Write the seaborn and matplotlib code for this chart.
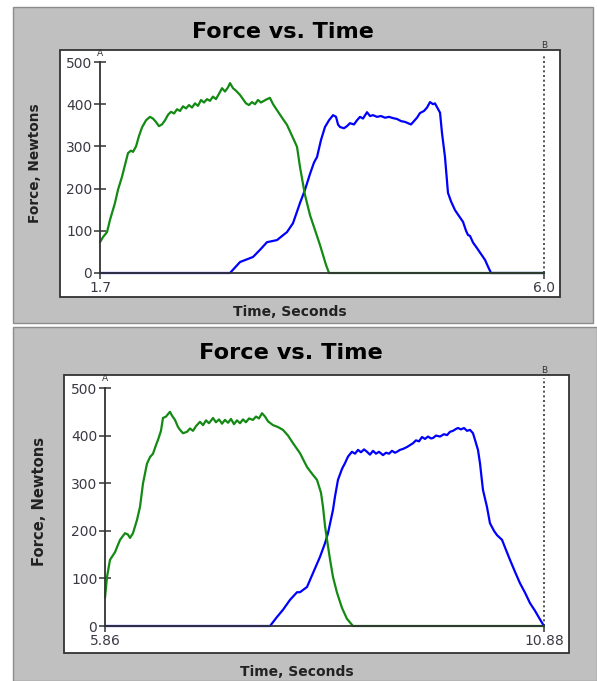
import matplotlib
matplotlib.use("Agg")
import matplotlib.pyplot as plt
from matplotlib.patches import Rectangle
import seaborn as sns
import pandas as pd

sns.set_style("white")
plt.rcParams['font.family'] = ['DejaVu Sans']

# ---------------- data: top run ----------------
top_green_t = [1.700, 1.729, 1.768, 1.797, 1.845, 1.874, 1.913, 1.942, 1.971, 2.000, 2.020, 2.049,
               2.078, 2.107, 2.146, 2.184, 2.213, 2.242, 2.271, 2.300, 2.330, 2.359, 2.388, 2.417,
               2.446, 2.475, 2.504, 2.533, 2.562, 2.591, 2.620, 2.649, 2.678, 2.707, 2.736, 2.765,
               2.794, 2.823, 2.853, 2.882, 2.911, 2.940, 2.959, 2.988, 3.017, 3.056, 3.085, 3.114,
               3.143, 3.172, 3.201, 3.230, 3.259, 3.288, 3.317, 3.346, 3.376, 3.414, 3.463, 3.511,
               3.560, 3.608, 3.637, 3.685, 3.734, 3.782, 3.831, 3.889, 3.918, 6.000]
top_green_f = [73, 85, 97, 126, 166, 197, 228, 256, 284, 290, 287, 300,
               325, 345, 362, 370, 366, 358, 348, 352, 362, 375, 382, 378,
               388, 384, 395, 390, 398, 392, 402, 396, 410, 404, 412, 408,
               418, 412, 425, 438, 430, 440, 450, 438, 432, 422, 412, 402,
               398, 405, 400, 410, 404, 408, 412, 415, 400, 386, 368, 351,
               325, 299, 251, 185, 137, 102, 66, 19, 0, 0]

top_blue_t = [1.700, 2.959, 3.056, 3.182, 3.250, 3.317, 3.414, 3.511, 3.569, 3.637, 3.685, 3.734,
              3.773, 3.802, 3.840, 3.879, 3.918, 3.957, 3.986, 4.005, 4.024, 4.063, 4.092, 4.121,
              4.160, 4.189, 4.218, 4.247, 4.286, 4.315, 4.344, 4.383, 4.421, 4.460, 4.499, 4.538,
              4.576, 4.615, 4.654, 4.683, 4.712, 4.741, 4.770, 4.799, 4.838, 4.867, 4.896, 4.925,
              4.944, 4.964, 4.993, 5.012, 5.041, 5.070, 5.099, 5.138, 5.177, 5.216, 5.245, 5.264,
              5.283, 5.313, 5.351, 5.390, 5.429, 5.458, 5.487, 6.000]
top_blue_f = [0, 0, 26, 38, 55, 73, 78, 97, 118, 166, 197, 235,
              262, 275, 315, 346, 362, 374, 370, 352, 346, 343, 348, 355,
              352, 362, 370, 366, 381, 372, 374, 370, 372, 368, 370, 367,
              365, 360, 358, 355, 352, 360, 368, 379, 384, 392, 405, 400,
              402, 393, 380, 332, 275, 190, 170, 149, 135, 121, 100, 90,
              88, 72, 59, 45, 31, 15, 0, 0]

# ---------------- data: bottom run ----------------
bot_green_t = [5.860, 5.883, 5.917, 5.974, 6.032, 6.089, 6.123, 6.146, 6.180, 6.226, 6.260, 6.295,
               6.340, 6.375, 6.409, 6.443, 6.466, 6.500, 6.523, 6.558, 6.580, 6.603, 6.626, 6.660,
               6.695, 6.718, 6.752, 6.798, 6.832, 6.866, 6.901, 6.946, 6.981, 7.015, 7.049, 7.095,
               7.129, 7.164, 7.198, 7.232, 7.267, 7.301, 7.335, 7.369, 7.404, 7.438, 7.472, 7.507,
               7.552, 7.587, 7.621, 7.655, 7.690, 7.724, 7.781, 7.838, 7.895, 7.953, 8.010, 8.056,
               8.090, 8.170, 8.227, 8.284, 8.330, 8.353, 8.376, 8.399, 8.433, 8.467, 8.513, 8.570,
               8.627, 8.696, 10.880]
bot_green_f = [59, 103, 139, 155, 181, 195, 192, 185, 195, 223, 250, 300,
               341, 355, 362, 380, 391, 410, 437, 440, 445, 450, 442, 433,
               418, 412, 405, 408, 415, 410, 420, 429, 422, 432, 426, 437,
               428, 434, 425, 433, 427, 435, 424, 432, 426, 434, 428, 436,
               433, 440, 436, 447, 440, 430, 422, 418, 412, 400, 384, 372,
               363, 334, 320, 307, 280, 250, 210, 181, 140, 103, 70, 38,
               15, 0, 0]

bot_blue_t = [5.860, 7.747, 7.827, 7.895, 7.976, 8.056, 8.090, 8.170, 8.238, 8.318, 8.376, 8.410,
              8.467, 8.490, 8.524, 8.570, 8.604, 8.639, 8.684, 8.719, 8.753, 8.787, 8.822, 8.856,
              8.890, 8.925, 8.959, 8.993, 9.039, 9.073, 9.108, 9.142, 9.176, 9.199, 9.233, 9.268,
              9.313, 9.348, 9.382, 9.416, 9.451, 9.485, 9.519, 9.554, 9.588, 9.611, 9.645, 9.691,
              9.736, 9.771, 9.805, 9.839, 9.874, 9.897, 9.931, 9.965, 10.000, 10.034, 10.068, 10.091,
              10.125, 10.148, 10.182, 10.228, 10.262, 10.308, 10.342, 10.400, 10.445, 10.491, 10.548,
              10.605, 10.663, 10.720, 10.777, 10.834, 10.880]
bot_blue_f = [0, 0, 19, 34, 55, 71, 71, 82, 111, 145, 174, 195,
              244, 272, 307, 330, 342, 356, 366, 362, 370, 365, 371, 366,
              360, 368, 362, 366, 359, 364, 362, 368, 364, 366, 370, 372,
              376, 380, 384, 390, 388, 397, 393, 398, 394, 395, 400, 398,
              403, 401, 408, 410, 414, 416, 413, 416, 410, 412, 405, 391,
              370, 342, 286, 250, 216, 200, 191, 181, 160, 139, 114,
              90, 70, 48, 32, 14, 0]

y_ticks = [0, 100, 200, 300, 400, 500]
top_xticks = [1.7, 6.0]
top_xlabels = ["1.7", "6.0"]
bot_xticks = [5.86, 10.88]
bot_xlabels = ["5.86", "10.88"]
title = "Force vs. Time"
xlab = "Time, Seconds"
ylab = "Force, Newtons"

W, H = 597, 681
fig = plt.figure(figsize=(W / 100, H / 100), dpi=100)

def R(x0, y0, x1, y1, **kw):
    fig.add_artist(Rectangle((x0 / W, 1 - y1 / H), (x1 - x0) / W, (y1 - y0) / H,
                             transform=fig.transFigure, **kw))

GRAY = "#c0c0c0"
# panels
R(13, 7, 593, 323, facecolor=GRAY, edgecolor="#8c8c8c", lw=1.0, zorder=-3)
R(13, 327, 597, 681, facecolor=GRAY, edgecolor="#8c8c8c", lw=1.0, zorder=-3)
# white plot boxes
R(60, 50, 560, 297, facecolor="white", edgecolor="#333333", lw=1.3, zorder=-2)
R(64, 375, 569, 653, facecolor="white", edgecolor="#333333", lw=1.3, zorder=-2)

GREEN = "#138a13"
BLUE = "#0000ff"
TICKC = "#3a3a44"


def make_panel(rect, gt, gf, bt, bf, xt, xl, title_xy, xlab_xy, ylab_xy, ylab_size, title_size):
    ax = fig.add_axes([rect[0] / W, 1 - rect[3] / H, (rect[2] - rect[0]) / W, (rect[3] - rect[1]) / H])
    ax.set_facecolor("none")
    dfb = pd.DataFrame({"t": bt, "f": bf})
    dfg = pd.DataFrame({"t": gt, "f": gf})
    sns.lineplot(data=dfb, x="t", y="f", ax=ax, color=BLUE, lw=1.6, clip_on=False, zorder=3)
    sns.lineplot(data=dfg, x="t", y="f", ax=ax, color=GREEN, lw=1.6, clip_on=False, zorder=4)
    ax.set_xlim(xt[0], xt[-1])
    ax.set_ylim(0, 500)
    ax.set_xlabel("")
    ax.set_ylabel("")
    for s in ["top", "right"]:
        ax.spines[s].set_visible(False)
    for s in ["left", "bottom"]:
        ax.spines[s].set_color("#333333")
        ax.spines[s].set_linewidth(1.3)
        ax.spines[s].set_zorder(5)
    ax.set_yticks(y_ticks)
    ax.set_yticklabels([str(v) for v in y_ticks])
    ax.set_xticks(xt)
    ax.set_xticklabels(xl)
    ax.tick_params(axis="y", direction="inout", length=9, width=1.1, color="#333333",
                   labelsize=10, labelcolor=TICKC, pad=1, left=True)
    ax.tick_params(axis="x", direction="out", length=4, width=1.1, color="#333333",
                   labelsize=10, labelcolor=TICKC, pad=2, bottom=True)
    # B cursor at right end
    ax.axvline(xt[-1], ymin=0, ymax=1.04, ls=(0, (1.2, 1.6)), color="#333333", lw=1.2,
               clip_on=False, zorder=2)
    ax.text(xt[-1], 1.055, "B", transform=ax.get_xaxis_transform(), ha="center", va="bottom",
            fontsize=6.5, color="#333333")
    ax.text(xt[0], 1.02, "A", transform=ax.get_xaxis_transform(), ha="center", va="bottom",
            fontsize=6.5, color="#333333")
    fig.text(title_xy[0] / W, 1 - title_xy[1] / H, title, ha="center", va="center",
             fontsize=title_size, fontweight="bold", color="black")
    fig.text(xlab_xy[0] / W, 1 - xlab_xy[1] / H, xlab, ha="center", va="center",
             fontsize=10, fontweight="bold", color="#222222")
    fig.text(ylab_xy[0] / W, 1 - ylab_xy[1] / H, ylab, ha="center", va="center", rotation=90,
             fontsize=ylab_size, fontweight="bold", color="#222222")
    return ax


make_panel((100, 62, 544, 273), top_green_t, top_green_f, top_blue_t, top_blue_f,
           top_xticks, top_xlabels, (283, 32), (290, 312), (35, 163), 9.8, 16)
make_panel((105, 388, 544, 626), bot_green_t, bot_green_f, bot_blue_t, bot_blue_f,
           bot_xticks, bot_xlabels, (291, 353), (297, 672), (40, 501), 10.6, 16.2)

fig.savefig("out.png", dpi=100)
